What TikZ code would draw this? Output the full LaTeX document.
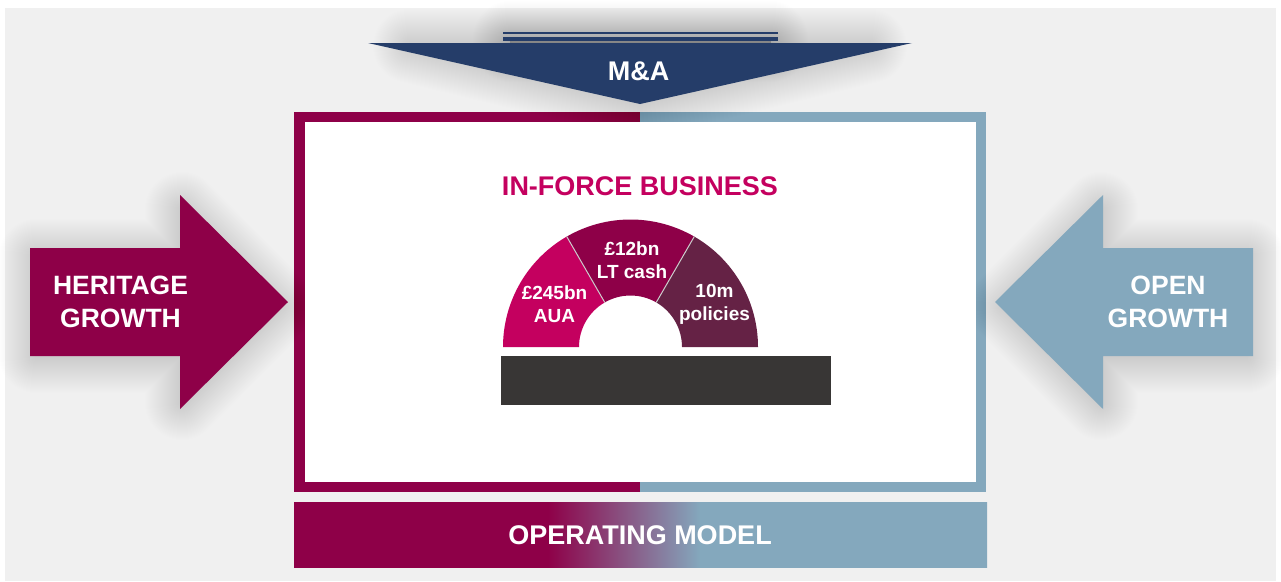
\documentclass[tikz,border=0pt]{standalone}
\usepackage{fontspec}
\setmainfont{Liberation Sans}
\usetikzlibrary{shadings}
\definecolor{heritage}{HTML}{8E0048}
\definecolor{openblue}{HTML}{84A8BD}
\definecolor{mnablue}{HTML}{253D69}
\definecolor{auapink}{HTML}{C4005F}
\definecolor{policyplum}{HTML}{652245}
\definecolor{darkbar}{HTML}{383635}
\definecolor{panelgrey}{HTML}{F0F0F0}
\tikzset{
  label/.style={text=white,font=\bfseries\fontsize{#1}{#1}\selectfont,align=center,inner sep=0pt},
  label/.default=27,
  seglabel/.style={text=white,font=\bfseries\fontsize{19}{23}\selectfont,align=center,inner sep=0pt},
  glow/.style={draw=black,fill=black,opacity=0.005,line join=round}
}
\pgfdeclarehorizontalshading{opmodel}{100bp}{
  color(0bp)=(heritage); color(43.3bp)=(heritage); color(54.3bp)=(openblue); color(100bp)=(openblue)}
\begin{document}
\begin{tikzpicture}[x=1pt,y=-1pt]
\useasboundingbox (0,0) rectangle (1281,581);
  % Draw background panel
  \fill[panelgrey] (5,8) rectangle (1276,581);
  % Draw main frame
  \fill[heritage] (294,112) rectangle (640,492);
  \fill[openblue] (640,112) rectangle (986,492);
  % Draw soft shadows
  \foreach \w in {2,4,...,74} {
    \draw[glow,line width=\w pt] (36,256) -- (182,256) -- (182,209) -- (278,306) -- (182,403) -- (182,356) -- (36,356) -- cycle;
    \draw[glow,line width=\w pt] (1247,256) -- (1101,256) -- (1101,209) -- (1005,306) -- (1101,403) -- (1101,356) -- (1247,356) -- cycle;
    \draw[glow,line width=\w pt] (410,46) -- (870,46) -- (640,102) -- cycle;
    \draw[glow,line width=\w pt] (510,38) rectangle (771,45);
  }
  \fill[white] (305,122) rectangle (976,482);
  % Draw heritage and open arrows
  \fill[heritage] (30,248) -- (180,248) -- (180,195) -- (288,302) -- (180,409) -- (180,356) -- (30,356) -- cycle;
  \fill[openblue] (1253,248) -- (1103,248) -- (1103,195) -- (995,302) -- (1103,409) -- (1103,356) -- (1253,356) -- cycle;
  % Draw M&A arrow
  \fill[mnablue] (368,43) -- (912,43) -- (640,104) -- cycle;
  \foreach \top/\bot in {32/34.2,36.6/41}
    \fill[mnablue] (503,\top) rectangle (778,\bot);
  % Draw operating model bar
  \shade[shading=opmodel] (294,502) rectangle (987,567);
  % Draw half ring
  \begin{scope}[shift={(630.5,347)}]
  \foreach \a/\b/\col in {120/180/auapink,60/120/heritage,0/60/policyplum}
    \fill[\col] (\a:127.5 and -127.5) arc[start angle=\a,end angle=\b,x radius=127.5,y radius=-127.5]
      -- (\b:51.5 and -51.5) arc[start angle=\b,end angle=\a,x radius=51.5,y radius=-51.5] -- cycle;
  \foreach \a in {60,120}
    \draw[white!80!black,line width=1pt] (\a:51.5 and -51.5) -- (\a:127.5 and -127.5);
  \end{scope}
  % Draw dark bar
  \fill[darkbar] (501,356) rectangle (831,405);
  % Draw labels
  \node[label] (mna) at (638.5,71) {M\&A};
  \node[label=26.5] (heritagegrowth) at (120.5,302) {HERITAGE\\[6pt]GROWTH};
  \node[label=26.5] (opengrowth) at (1168,302) {OPEN\\[6pt]GROWTH};
  \node[label] (opmodeltext) at (640,535.5) {OPERATING MODEL};
  \node[label,text=auapink] (inforce) at (640,186.5) {IN-FORCE BUSINESS};
  \node[seglabel] (aua) at (554.5,304.5) {£245bn\\AUA};
  \node[seglabel] (cash) at (632,260) {£12bn\\LT cash};
  \node[seglabel] (policies) at (714.5,304.5) {10m\\policies};
\end{tikzpicture}
\end{document}
